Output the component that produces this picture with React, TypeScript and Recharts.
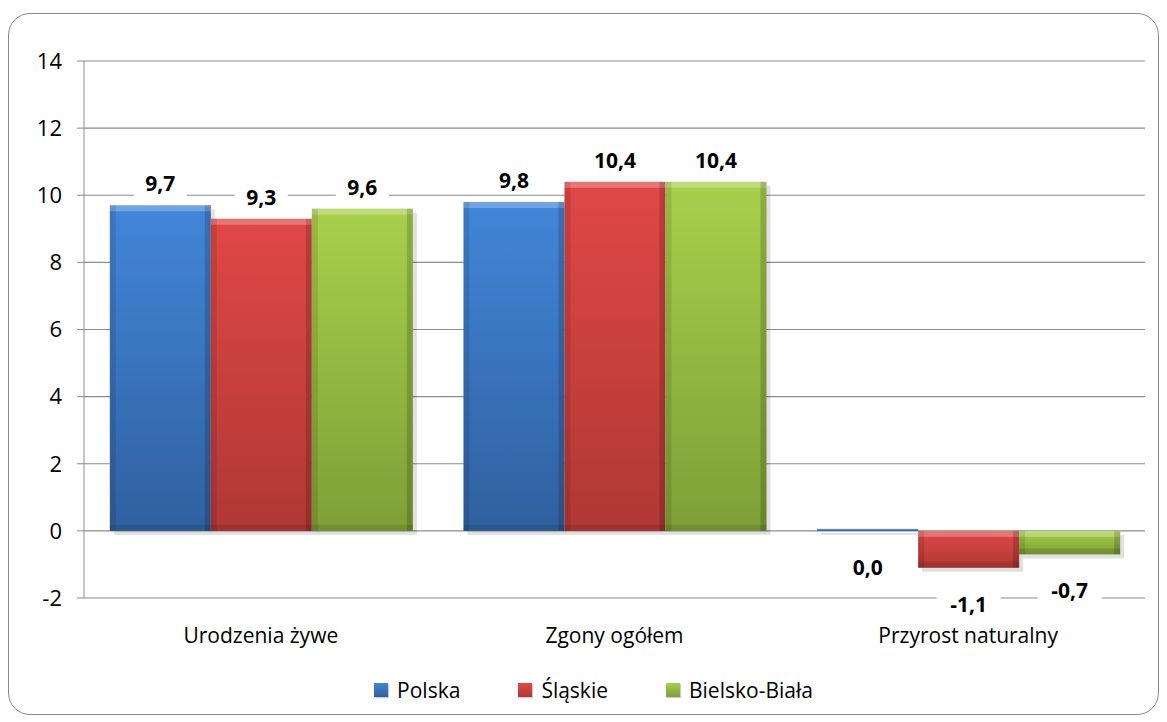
import { BarChart, Bar, XAxis, YAxis, CartesianGrid, Legend, LabelList } from 'recharts';

const categories = ['Urodzenia żywe', 'Zgony ogółem', 'Przyrost naturalny'];
const polska = [9.7, 9.8, 0.0];
const slaskie = [9.3, 10.4, -1.1];
const bielsko = [9.6, 10.4, -0.7];
const yTicks = [-2, 0, 2, 4, 6, 8, 10, 12, 14];

const seriesInfo = [
    { key: 'polska', name: 'Polska', top: '#4286d8', bottom: '#30609f' },
    { key: 'slaskie', name: 'Śląskie', top: '#e04846', bottom: '#b03834' },
    { key: 'bielsko', name: 'Bielsko-Biała', top: '#a8d04c', bottom: '#7e9f36' },
];

const chartData = categories.map((name, i) => ({
    name,
    polska: polska[i],
    slaskie: slaskie[i],
    bielsko: bielsko[i],
}));

const FONT = '"Open Sans", "Noto Sans", sans-serif';

const BevelBar = (props: any) => {
    const { x, y, width, height, fill } = props;
    const top = Math.min(y, y + height);
    const h = Math.abs(height);
    if (!width || h <= 0) return null;
    const e = Math.min(6, h / 3);
    return (
        <g>
            <rect x={x + 4} y={top + 4} width={width} height={h} fill="rgba(0,0,0,0.12)" />
            <rect x={x} y={top} width={width} height={h} fill={fill} />
            <rect x={x} y={top} width={width} height={e} fill="rgba(255,255,255,0.25)" />
            <rect x={x} y={top} width={e} height={h} fill="rgba(0,0,0,0.1)" />
            <rect x={x + width - e} y={top} width={e} height={h} fill="rgba(0,0,0,0.16)" />
            <rect x={x} y={top + h - e} width={width} height={e} fill="rgba(0,0,0,0.1)" />
        </g>
    );
};

const ValueLabel = (props: any) => {
    const { x, y, width, height, value } = props;
    const top = Math.min(y, y + height);
    const bottom = Math.max(y, y + height);
    const cx = x + width / 2;
    const cy = value > 0 ? top - 22 : bottom + 36;
    const text = Number(value).toFixed(1).replace('.', ',');
    const w = text.length * 11 + 20;
    return (
        <g>
            <rect x={cx - w / 2} y={cy - 14} width={w} height={28} fill="#fff" />
            <text x={cx} y={cy} textAnchor="middle" dominantBaseline="central" fontWeight="bold" fontSize={21} fontFamily={FONT} fill="#000">
                {text}
            </text>
        </g>
    );
};

const LegendContent = () => (
    <div style={{ display: 'flex', justifyContent: 'center', alignItems: 'center', height: 30, fontFamily: FONT, fontSize: 21, color: '#000', paddingLeft: 42 }}>
        {seriesInfo.map((s) => (
            <div key={s.key} style={{ display: 'flex', alignItems: 'center', margin: '0 29px' }}>
                <span style={{ width: 14, height: 14, background: `linear-gradient(${s.top}, ${s.bottom})`, marginRight: 9, boxShadow: '1px 1px 1px rgba(0,0,0,0.2)' }} />
                <span>{s.name}</span>
            </div>
        ))}
    </div>
);

export default function App() {
    return (
        <div style={{ position: 'absolute', left: 0, top: 0, width: 1167, height: 722, background: '#fff' }}>
            <div style={{ position: 'absolute', left: 8, top: 13, width: 1149, height: 700, border: '1.5px solid #8a8a8a', borderRadius: 22 }} />
            <BarChart
                width={1167}
                height={722}
                data={chartData}
                margin={{ top: 61, right: 22, left: 0, bottom: 17 }}
                barCategoryGap="7.3%"
                barGap={0}
            >
                <defs>
                    {seriesInfo.map((s) => (
                        <linearGradient key={s.key} id={`grad-${s.key}`} x1="0" y1="0" x2="0" y2="1">
                            <stop offset="0%" stopColor={s.top} />
                            <stop offset="100%" stopColor={s.bottom} />
                        </linearGradient>
                    ))}
                </defs>
                <CartesianGrid vertical={false} stroke="#8c8c8c" strokeWidth={1.2} />
                <XAxis
                    dataKey="name"
                    axisLine={false}
                    tickLine={false}
                    height={77}
                    tickMargin={24}
                    tick={{ fontSize: 21, fontFamily: FONT, fill: '#000' }}
                />
                <YAxis
                    width={84}
                    domain={[-2, 14]}
                    ticks={yTicks}
                    interval={0}
                    stroke="#8c8c8c"
                    tickSize={7}
                    tickMargin={15}
                    tick={{ fontSize: 22, fontFamily: FONT, fill: '#000' }}
                />
                <Legend verticalAlign="bottom" content={<LegendContent />} />
                {seriesInfo.map((s) => (
                    <Bar key={s.key} dataKey={s.key} name={s.name} fill={`url(#grad-${s.key})`} shape={<BevelBar />} minPointSize={2} isAnimationActive={false}>
                        <LabelList dataKey={s.key} content={<ValueLabel />} />
                    </Bar>
                ))}
            </BarChart>
        </div>
    );
}
